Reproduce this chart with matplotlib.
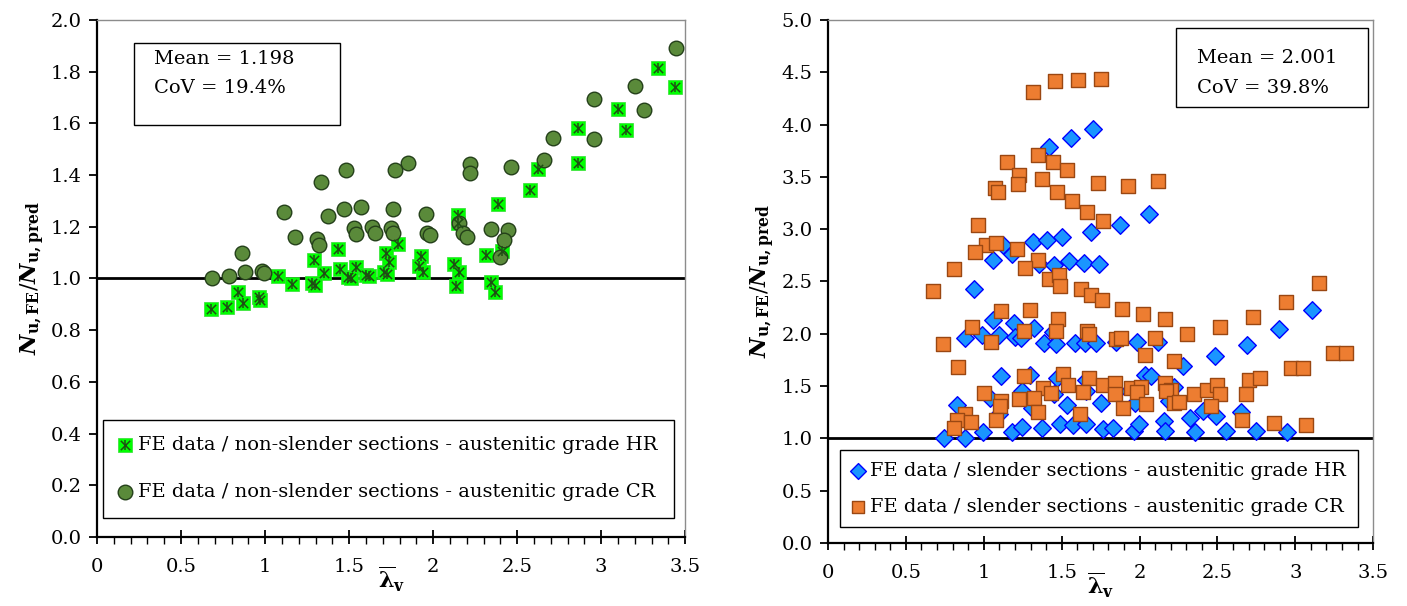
import numpy as np
import matplotlib
matplotlib.use("Agg")
import matplotlib.pyplot as plt
from matplotlib.patches import Rectangle
from matplotlib.ticker import MultipleLocator, FormatStrFormatter, FuncFormatter

plt.rcParams['font.family'] = ['DejaVu Serif']
plt.rcParams['mathtext.fontset'] = 'custom'
plt.rcParams['mathtext.rm'] = 'DejaVu Serif'
plt.rcParams['mathtext.it'] = 'DejaVu Serif:italic'
plt.rcParams['mathtext.bf'] = 'DejaVu Serif:bold'
plt.rcParams['mathtext.bfit'] = 'DejaVu Serif:bold:italic'

# ---- left panel: non-slender sections ----
hr_ns_x = [3.340, 3.437, 3.101, 3.147, 2.862, 2.862, 2.623, 2.577, 2.384, 2.147,
           2.147, 2.313, 2.409, 2.345, 2.368, 2.133, 2.122, 2.154, 1.789, 1.717,
           1.736, 1.926, 1.915, 1.940, 1.708, 1.726, 1.434, 1.292, 1.352, 1.446,
           1.543, 1.492, 1.510, 1.600, 1.621, 1.076, 1.161, 1.278, 1.294, 0.839,
           0.871, 0.963, 0.972, 0.678, 0.775]
hr_ns_y = [1.815, 1.741, 1.654, 1.576, 1.583, 1.447, 1.424, 1.341, 1.290, 1.246,
           1.214, 1.089, 1.108, 0.987, 0.946, 0.970, 1.056, 1.026, 1.132, 1.097,
           1.063, 1.087, 1.049, 1.026, 1.026, 1.016, 1.115, 1.070, 1.023, 1.036,
           1.045, 1.006, 1.000, 1.013, 1.009, 1.009, 0.978, 0.981, 0.975, 0.947,
           0.905, 0.927, 0.918, 0.881, 0.889]

cr_ns_x = [3.448, 3.202, 2.956, 3.253, 2.713, 2.956, 2.662, 1.848, 2.218, 2.218,
           2.464, 1.480, 1.775, 1.331, 1.113, 1.568, 1.469, 1.763, 1.372, 1.956,
           1.529, 1.637, 1.747, 2.152, 2.347, 2.448, 1.543, 1.653, 1.763, 1.963,
           1.982, 2.179, 2.202, 1.177, 1.310, 1.322, 2.421, 2.400, 0.864, 0.883,
           0.979, 0.991, 0.786, 0.685]
cr_ns_y = [1.892, 1.745, 1.693, 1.650, 1.544, 1.538, 1.460, 1.446, 1.442, 1.408,
           1.430, 1.420, 1.418, 1.373, 1.258, 1.276, 1.267, 1.267, 1.240, 1.249,
           1.196, 1.199, 1.196, 1.214, 1.190, 1.187, 1.171, 1.174, 1.175, 1.175,
           1.167, 1.177, 1.159, 1.162, 1.153, 1.130, 1.149, 1.084, 1.097, 1.026,
           1.030, 1.022, 1.009, 1.000]

# ---- right panel: slender sections ----
hr_s_x = [1.702, 1.558, 1.416, 2.060, 1.874, 1.685, 1.313, 1.405, 1.499, 1.124,
          1.183, 1.058, 1.353, 1.452, 1.544, 1.645, 1.737, 0.936, 3.104,
          1.058, 1.193, 1.325, 0.987, 0.877, 1.096, 1.202, 1.242, 1.442, 1.388,
          1.461, 1.586, 1.652, 1.721, 1.850, 1.984, 2.116, 2.897, 2.692, 2.484,
          2.279, 1.110, 1.296, 1.471, 1.659, 1.855, 2.036, 2.072, 2.223, 1.247,
          1.449, 1.659, 1.037, 0.825, 1.534, 1.753, 1.973, 2.192, 1.310, 1.098,
          2.324, 2.409, 2.489, 2.654, 0.997, 1.178, 1.247, 1.372, 1.492, 1.570,
          1.659, 1.768, 1.831, 1.963, 1.996, 2.159, 2.161, 2.357, 2.555, 2.750,
          2.944, 0.745, 0.881]
hr_s_y = [3.962, 3.873, 3.790, 3.146, 3.044, 2.970, 2.881, 2.900, 2.926, 2.846,
          2.766, 2.705, 2.670, 2.654, 2.695, 2.673, 2.670, 2.430, 2.231,
          2.136, 2.101, 2.053, 1.992, 1.957, 1.986, 1.973, 1.960, 2.014, 1.915,
          1.906, 1.915, 1.915, 1.912, 1.918, 1.922, 1.918, 2.050, 1.896, 1.784,
          1.691, 1.592, 1.608, 1.576, 1.560, 1.454, 1.605, 1.598, 1.493, 1.454,
          1.422, 1.454, 1.384, 1.320, 1.320, 1.336, 1.336, 1.358, 1.294, 1.237,
          1.195, 1.266, 1.214, 1.250, 1.058, 1.064, 1.112, 1.102, 1.138, 1.125,
          1.138, 1.093, 1.102, 1.074, 1.141, 1.166, 1.070, 1.064, 1.070, 1.070,
          1.064, 1.000, 1.000]

cr_s_x = [1.313, 1.459, 1.603, 1.751, 1.346, 1.152, 1.442, 1.537, 1.225, 1.218,
          1.372, 1.075, 1.089, 1.730, 1.923, 2.116, 1.468, 1.567, 1.664, 1.763,
          0.962, 1.011, 1.077, 0.943, 1.214, 0.806, 0.674, 1.350, 1.416, 1.485,
          1.487, 1.263, 1.621, 1.690, 1.756, 1.890, 2.025, 2.939, 3.149, 1.112,
          1.294, 2.161, 2.307, 2.517, 2.727, 1.478, 1.466, 1.256, 0.922, 0.735,
          1.049, 1.661, 1.678, 1.850, 1.883, 2.098, 2.036, 2.220, 0.837, 2.974,
          3.052, 3.243, 3.328, 1.256, 1.506, 1.673, 1.539, 1.383, 1.433, 1.636,
          1.763, 1.843, 1.843, 1.944, 2.008, 1.985, 2.163, 2.203, 2.168, 2.347,
          2.432, 2.498, 2.515, 2.703, 2.774, 2.682, 1.004, 1.110, 1.101, 1.225,
          1.320, 1.350, 1.077, 0.879, 0.830, 0.919, 0.808, 1.619, 1.893, 2.043,
          2.220, 2.251, 2.456, 2.659, 2.864, 3.071]
cr_s_y = [4.308, 4.414, 4.430, 4.436, 3.706, 3.642, 3.642, 3.566, 3.514, 3.431,
          3.482, 3.393, 3.354, 3.444, 3.415, 3.463, 3.354, 3.265, 3.169, 3.082,
          3.038, 2.846, 2.868, 2.782, 2.810, 2.615, 2.410, 2.708, 2.522, 2.558,
          2.458, 2.631, 2.430, 2.369, 2.321, 2.240, 2.190, 2.308, 2.487, 2.215,
          2.231, 2.142, 1.998, 2.062, 2.165, 2.142, 2.030, 2.030, 2.069, 1.899,
          1.918, 2.024, 1.998, 1.954, 1.960, 1.963, 1.794, 1.736, 1.682, 1.672,
          1.672, 1.819, 1.819, 1.598, 1.611, 1.582, 1.512, 1.486, 1.435, 1.448,
          1.506, 1.534, 1.422, 1.480, 1.493, 1.442, 1.525, 1.461, 1.454, 1.429,
          1.461, 1.512, 1.422, 1.557, 1.573, 1.422, 1.438, 1.358, 1.314, 1.374,
          1.387, 1.256, 1.176, 1.237, 1.173, 1.154, 1.102, 1.237, 1.294, 1.326,
          1.339, 1.346, 1.307, 1.173, 1.147, 1.128]

left_stats = ["Mean = 1.198", "CoV = 19.4%"]
right_stats = ["Mean = 2.001", "CoV = 39.8%"]
left_labels = ["FE data / non-slender sections - austenitic grade HR",
               "FE data / non-slender sections - austenitic grade CR"]
right_labels = ["FE data / slender sections - austenitic grade HR",
                "FE data / slender sections - austenitic grade CR"]

FS = 14

fig = plt.figure(figsize=(14.07, 6.06), dpi=100)
ax1 = fig.add_axes([0.069, 0.114, 0.418, 0.853])
ax2 = fig.add_axes([0.5885, 0.104, 0.3875, 0.863])


def style_axes(ax, ymax, ystep):
    ax.set_xlim(0, 3.5)
    ax.set_ylim(0, ymax)
    ax.xaxis.set_major_locator(MultipleLocator(0.5))
    ax.xaxis.set_minor_locator(MultipleLocator(0.1))
    ax.yaxis.set_major_locator(MultipleLocator(ystep))
    ax.xaxis.set_major_formatter(FuncFormatter(lambda v, p: f"{v:g}"))
    ax.yaxis.set_major_formatter(FormatStrFormatter('%.1f'))
    ax.tick_params(axis='x', which='major', direction='inout', length=10, width=1.3,
                   labelsize=FS, pad=10)
    ax.tick_params(axis='x', which='minor', direction='out', length=5, width=1.0)
    ax.tick_params(axis='y', which='major', direction='out', length=6, width=1.3,
                   labelsize=FS, pad=5)
    for s in ['left', 'bottom']:
        ax.spines[s].set_linewidth(1.6)
        ax.spines[s].set_color('black')
    for s in ['top', 'right']:
        ax.spines[s].set_linewidth(1.0)
        ax.spines[s].set_color('#8c8c8c')
    ax.axhline(1.0, color='black', lw=2, zorder=1)
    ax.set_ylabel(r'$\mathbfit{N}_{\mathbf{u,FE}}/\mathbfit{N}_{\mathbf{u,pred}}$',
                  fontsize=16, labelpad=3)
    ax.set_xlabel(r'$\overline{\mathbf{λ}}_{\mathbf{v}}$', fontsize=16, labelpad=-8)


def stats_box(ax, lines, box, tx, ty):
    x0, y0, x1, y1 = box
    ax.add_patch(Rectangle((x0, y0), x1 - x0, y1 - y0, transform=ax.transAxes,
                           fc='white', ec='black', lw=1.0, zorder=5))
    ax.text(tx, ty[0], lines[0], transform=ax.transAxes, fontsize=FS,
            va='center', ha='left', zorder=6)
    ax.text(tx, ty[1], lines[1], transform=ax.transAxes, fontsize=FS,
            va='center', ha='left', zorder=6)


style_axes(ax1, 2.0, 0.2)
style_axes(ax2, 5.0, 0.5)

# left panel marks
h_sq = ax1.scatter(hr_ns_x, hr_ns_y, marker='s', s=95, c='#00ff00',
                   edgecolors='#33dd33', linewidths=0.5, zorder=3)
h_x = ax1.scatter(hr_ns_x, hr_ns_y, marker='x', s=45, c='#1f4d14',
                  linewidths=1.1, zorder=4)
h_v = ax1.scatter(hr_ns_x, hr_ns_y, marker='|', s=45, c='#1f4d14',
                  linewidths=1.1, zorder=4)
h_c = ax1.scatter(cr_ns_x, cr_ns_y, marker='o', s=110, c='#5a8a3a',
                  edgecolors='#24401a', linewidths=1.0, zorder=3)

leg1 = ax1.legend([(h_sq, h_x, h_v), h_c], left_labels, loc='lower left',
                  bbox_to_anchor=(0.01, 0.037), fontsize=FS, frameon=True,
                  fancybox=False, edgecolor='black', framealpha=1,
                  handlelength=0.6, handletextpad=0.35, labelspacing=1.5,
                  borderpad=0.85, borderaxespad=0, markerscale=1.0)
leg1.get_frame().set_linewidth(1.0)

stats_box(ax1, left_stats, (0.063, 0.797, 0.413, 0.955), 0.097, (0.925, 0.868))

# right panel marks
h_d = ax2.scatter(hr_s_x, hr_s_y, marker='D', s=80, c='#1a95ff',
                  edgecolors='#0000ff', linewidths=1.0, zorder=3)
h_o = ax2.scatter(cr_s_x, cr_s_y, marker='s', s=105, c='#ed7d31',
                  edgecolors='#9a4712', linewidths=1.0, zorder=4)

leg2 = ax2.legend([h_d, h_o], right_labels, loc='lower left',
                  bbox_to_anchor=(0.022, 0.03), fontsize=FS, frameon=True,
                  fancybox=False, edgecolor='black', framealpha=1,
                  handlelength=0.6, handletextpad=0.35, labelspacing=0.9,
                  borderpad=0.6, borderaxespad=0, markerscale=0.9)
leg2.get_frame().set_linewidth(1.0)

stats_box(ax2, right_stats, (0.639, 0.834, 0.991, 0.985), 0.677, (0.928, 0.870))

fig.savefig('out.png', dpi=100)
